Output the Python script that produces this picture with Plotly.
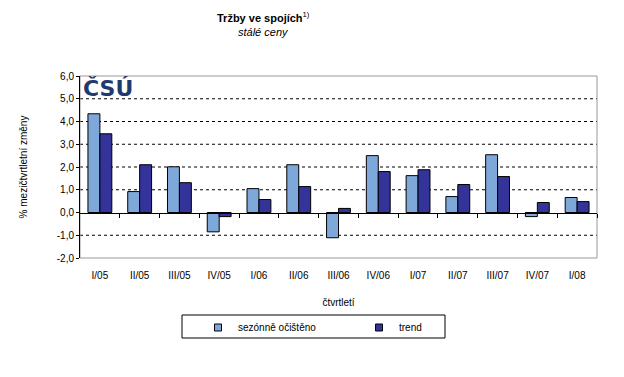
import plotly.graph_objects as go

categories = ["I/05", "II/05", "III/05", "IV/05", "I/06", "II/06", "III/06",
              "IV/06", "I/07", "II/07", "III/07", "IV/07", "I/08"]
seasonal = [4.34, 0.92, 2.01, -0.85, 1.05, 2.10, -1.11, 2.50, 1.62, 0.70, 2.54, -0.18, 0.66]
trend = [3.46, 2.10, 1.31, -0.18, 0.57, 1.14, 0.18, 1.80, 1.88, 1.23, 1.58, 0.44, 0.48]
ytick_vals = [-2, -1, 0, 1, 2, 3, 4, 5, 6]
ytick_text = ["-2,0", "-1,0", "0,0", "1,0", "2,0", "3,0", "4,0", "5,0", "6,0"]
series_names = ["sezónně očištěno", "trend"]
series_colors = ["#7FA8DA", "#333399"]

FONT = "Liberation Sans, Arial, sans-serif"
W, H = 624, 377
L, R, T, B = 80, 27, 76, 119
PW, PH = W - L - R, H - T - B


def px_x(x):
    return (x - L) / PW


def px_y(y):
    return (H - B - y) / PH


fig = go.Figure()
for vals, name, col in zip([seasonal, trend], series_names, series_colors):
    fig.add_trace(go.Bar(x=categories, y=vals, name=name, showlegend=False,
                         marker=dict(color=col, line=dict(color="black", width=1))))
# legend entries with small square swatches
for name, col in zip(series_names, series_colors):
    fig.add_trace(go.Scatter(x=[None], y=[None], mode="markers", name=name,
                             marker=dict(symbol="square", size=7, color=col,
                                         line=dict(color="black", width=1))))

# dashed gridlines
for v in ytick_vals:
    if v in (0, -2, 6):
        continue
    fig.add_shape(type="line", xref="paper", x0=0, x1=1, yref="y", y0=v, y1=v,
                  line=dict(color="black", width=1, dash="3px,3px"), layer="below")

# tick marks on the zero line between categories
fig.add_trace(go.Scatter(x=[None], y=[None], xaxis="x2", showlegend=False, hoverinfo="skip"))

fig.update_layout(
    width=W, height=H,
    margin=dict(l=L, r=R, t=T, b=B),
    paper_bgcolor="white", plot_bgcolor="white",
    font=dict(family=FONT, size=10, color="black"),
    barmode="group", bargap=0.4, bargroupgap=0,
    xaxis=dict(type="category", showline=False, ticks="", showgrid=False, automargin=False,
               title=dict(text="čtvrtletí", font=dict(size=10), standoff=18),
               tickfont=dict(size=10), ticklabelstandoff=10),
    xaxis2=dict(overlaying="x", anchor="free", position=0.25, range=[-0.5, len(categories) - 0.5],
                tickvals=[i + 0.5 for i in range(len(categories))], ticks="outside",
                ticklen=4, tickcolor="black", showticklabels=False, showgrid=False,
                zeroline=False, showline=True, linecolor="black", linewidth=1, automargin=False),
    yaxis=dict(range=[-2, 6], tickvals=ytick_vals, ticktext=ytick_text, automargin=False,
               showgrid=False, zeroline=False, showline=True, linecolor="black",
               ticks="outside", ticklen=3, tickcolor="black",
               title=dict(text="% mezičtvrtletní změny", font=dict(size=10), standoff=27)),
    legend=dict(orientation="h", x=px_x(198), xanchor="left", y=px_y(313), yanchor="top",
                bgcolor="rgba(0,0,0,0)", borderwidth=0, font=dict(size=10),
                entrywidth=116, itemwidth=30),
    showlegend=True,
)

# legend frame
fig.add_shape(type="rect", xref="paper", yref="paper", x0=px_x(182), x1=px_x(445),
              y0=px_y(338), y1=px_y(315), line=dict(color="black", width=1))

# title and subtitle
fig.add_annotation(text="<b>Tržby ve spojích</b><sup>1)</sup>", xref="paper", yref="paper",
                   x=px_x(263), y=px_y(17), xanchor="center", yanchor="middle", showarrow=False,
                   font=dict(family=FONT, size=11))
fig.add_annotation(text="<i>stálé ceny</i>", xref="paper", yref="paper",
                   x=px_x(263), y=px_y(32), xanchor="center", yanchor="middle", showarrow=False,
                   font=dict(family=FONT, size=11))

# plot area frame (grey)
fig.add_shape(type="rect", xref="paper", yref="paper", x0=0, x1=1, y0=0, y1=1,
              line=dict(color="#999999", width=1), layer="below")

# logo text
fig.add_annotation(text="<b>ČSÚ</b>", xref="paper", yref="paper", x=px_x(81), y=px_y(74),
                   xanchor="left", yanchor="top", showarrow=False,
                   font=dict(family="DejaVu Sans, sans-serif", size=22, color="#1F3A6E"))

fig.write_html("out.html", post_script="document.body.style.margin='0';",
               config={"displayModeBar": False})
